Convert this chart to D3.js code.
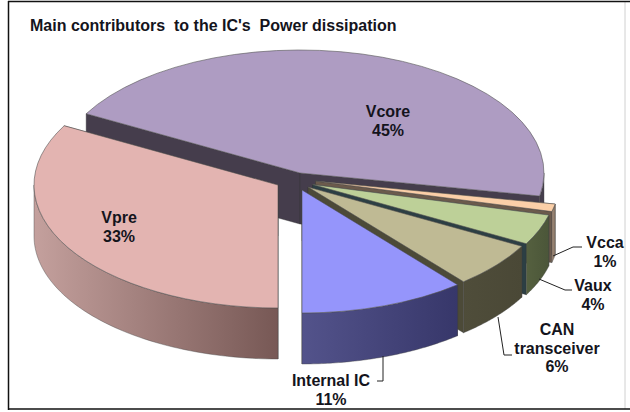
<!DOCTYPE html>
<html>
<head>
<meta charset="utf-8">
<script src="https://cdn.jsdelivr.net/npm/d3@7"></script>
<style>
  html, body { margin: 0; padding: 0; background: #fff; }
  svg { display: block; }
  text { font-family: "Liberation Sans", Arial, sans-serif; font-weight: bold; fill: #14141c; }
</style>
</head>
<body>
<div id="chart"></div>
<script>
// chart values
const title = "Main contributors\u00a0 to the IC's\u00a0 Power dissipation";
const categories = ['Vcore', 'Vcca', 'Vaux', 'CAN transceiver', 'Internal IC', 'Vpre'];
const values = [45, 1, 4, 6, 11, 33];

const width = 630, height = 412;
const rx = 244, ry = 123, depth = 51;

// slice layout, same order as categories
const centers = [[300, 173], [315.5, 181], [312.5, 184.5], [308, 187], [302, 190], [278, 185]];
const topColors = ['#ae9cc2', '#fbcfa8', '#bdd098', '#bfba94', '#9595fb', '#e3b4b1'];
const sideColors = ['#453d4c', '#6b5a4c', '#2c3f44', '#4c4a38', '#37376a', '#775855'];
const wallFrom = ['#453d4c', '#a08a78', '#55603f', '#4f4d3a', '#53538b', '#c4a09d'];
const wallTo = ['#453d4c', '#8c7868', '#4b5639', '#4a4836', '#37376a', '#775855'];

const labelLines = [['Vcore', '45%'], ['Vcca', '1%'], ['Vaux', '4%'], ['CAN', 'transceiver', '6%'], ['Internal IC', '11%'], ['Vpre', '33%']];
const labelPos = [[388, 117], [605, 248], [593, 291], [557, 335], [331, 386], [119, 223]];
const leaders = [null, [[553, 256], [573, 247], [582, 247]], [[539, 279], [565, 290], [572, 290]], [[498, 317], [504, 355], [512, 355]], [[383, 356], [383, 381], [377, 381]], null];

const svg = d3.select('#chart')
  .append('svg')
  .attr('width', width)
  .attr('height', height);

svg.append('rect').attr('width', width).attr('height', height).attr('fill', '#fff');

// frame
svg.append('line').attr('x1', 625).attr('x2', 625).attr('y1', 2).attr('y2', 409).attr('stroke', '#d0d0d0');
svg.append('line').attr('x1', 8.5).attr('x2', 8.5).attr('y1', 1).attr('y2', 410).attr('stroke', '#111').attr('stroke-width', 1.5);
svg.append('line').attr('x1', 8).attr('x2', 630).attr('y1', 1.5).attr('y2', 1.5).attr('stroke', '#111').attr('stroke-width', 1.5);
svg.append('line').attr('x1', 8).attr('x2', 630).attr('y1', 409).attr('y2', 409).attr('stroke', '#111').attr('stroke-width', 1.5);

// pie starts on Vcore's left edge, Internal IC / Vpre meet at the bottom
const startDeg = -61.2;
const pie = d3.pie().sort(null)
  .startAngle(startDeg * Math.PI / 180)
  .endAngle((startDeg + 360) * Math.PI / 180);
const slices = pie(values);

const arc = d3.arc().innerRadius(0).outerRadius(rx);
const px = a => rx * Math.sin(a);
const py = a => -ry * Math.cos(a);

const defs = svg.append('defs');
categories.forEach((c, i) => {
  const g = defs.append('linearGradient').attr('id', 'wall' + i);
  g.append('stop').attr('offset', 0).attr('stop-color', wallFrom[i]);
  g.append('stop').attr('offset', 1).attr('stop-color', wallTo[i]);
});

const wall = d3.area()
  .x(a => px(a))
  .y0(a => py(a))
  .y1(a => py(a) + depth);

const line = d3.line();

// back slices first, then the small ones front to back
const order = [0, 5, 1, 2, 3, 4];

order.forEach(i => {
  const d = slices[i];
  const g = svg.append('g')
    .attr('class', 'slice')
    .attr('transform', `translate(${centers[i][0]},${centers[i][1]})`);

  // flat faces along both cut edges
  [d.startAngle, d.endAngle].forEach(a => {
    g.append('path')
      .attr('d', line([[0, 0], [px(a), py(a)], [px(a), py(a) + depth], [0, depth]]) + 'Z')
      .attr('fill', sideColors[i])
      .attr('stroke', '#333')
      .attr('stroke-width', 0.4);
  });

  // rim, only the part that faces the viewer
  const from = Math.max(d.startAngle, Math.PI / 2);
  const to = Math.min(d.endAngle, Math.PI * 1.5);
  if (to > from) {
    const steps = d3.range(0, 61).map(k => from + (to - from) * k / 60);
    g.append('path')
      .attr('d', wall(steps))
      .attr('fill', `url(#wall${i})`)
      .attr('stroke', '#444')
      .attr('stroke-width', 0.4);
  }

  // top face, a circular arc squashed to an ellipse
  g.append('path')
    .attr('transform', `scale(1,${ry / rx})`)
    .attr('d', arc(d))
    .attr('fill', topColors[i])
    .attr('stroke', '#555')
    .attr('stroke-width', 0.6)
    .attr('vector-effect', 'non-scaling-stroke');
});

// leader lines
leaders.forEach(l => {
  if (!l) return;
  svg.append('path')
    .attr('d', line(l))
    .attr('fill', 'none')
    .attr('stroke', '#222')
    .attr('stroke-width', 1);
});

// labels
labelLines.forEach((lines, i) => {
  const t = svg.append('text')
    .attr('text-anchor', 'middle')
    .attr('font-size', 16);
  lines.forEach((s, k) => {
    t.append('tspan')
      .attr('x', labelPos[i][0])
      .attr('y', labelPos[i][1] + k * 18.7)
      .text(s);
  });
});

svg.append('text')
  .attr('x', 30)
  .attr('y', 31)
  .attr('font-size', 16)
  .text(title);
</script>
</body>
</html>
